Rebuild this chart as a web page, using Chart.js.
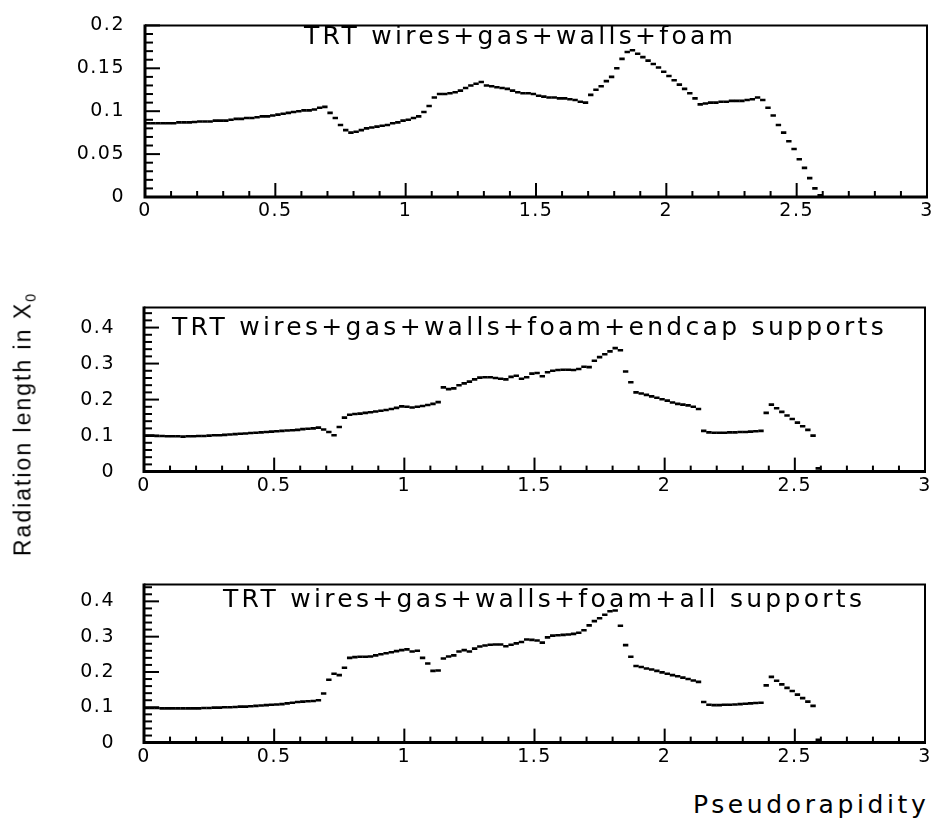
<!DOCTYPE html>
<html>
<head>
<meta charset="utf-8">
<script src="https://cdn.jsdelivr.net/npm/chart.js@4.4.0/dist/chart.umd.min.js"></script>
<style>
  html, body { margin: 0; padding: 0; background: #fff; }
  body { width: 933px; height: 825px; overflow: hidden; position: relative; }
  .panel { position: absolute; left: 0; }
  #ytitle {
    position: absolute; left: 23px; top: 424px;
    transform: translate(-50%, -50%) rotate(-90deg);
    font: 23px "Liberation Sans", sans-serif; letter-spacing: 2px;
    white-space: nowrap; color: #000;
  }
  #ytitle span { font-size: 62%; position: relative; top: 0.35em; }
  #xtitle {
    position: absolute; left: 693px; top: 792px;
    font: 25px "DejaVu Sans", sans-serif; line-height: 25px; letter-spacing: 3.6px;
    white-space: nowrap; color: #000;
  }
</style>
</head>
<body>
<div class="panel" id="wrap1"><canvas id="c1"></canvas></div>
<div class="panel" id="wrap2"><canvas id="c2"></canvas></div>
<div class="panel" id="wrap3"><canvas id="c3"></canvas></div>
<div id="ytitle">Radiation length in X<span>0</span></div>
<div id="xtitle">Pseudorapidity</div>

<script>
// Histogram binning in pseudorapidity: 130 bins of width 0.02 from 0 to 2.6
const etaMin = 0;
const binWidth = 0.02;
const nBins = 130;

// Radiation length (X0) per bin, one row = 0.2 in eta
const wiresGasWallsFoam = [
  0.086,0.086,0.086,0.086,0.086,0.086,0.087,0.087,0.087,0.0875,
  0.088,0.088,0.088,0.089,0.089,0.089,0.090,0.091,0.091,0.092,
  0.092,0.093,0.094,0.094,0.095,0.096,0.097,0.098,0.099,0.100,
  0.101,0.101,0.102,0.104,0.105,0.098,0.092,0.084,0.078,0.075,
  0.076,0.078,0.080,0.081,0.082,0.083,0.084,0.086,0.087,0.089,
  0.090,0.092,0.094,0.099,0.106,0.116,0.120,0.120,0.121,0.122,
  0.124,0.127,0.130,0.132,0.134,0.130,0.129,0.128,0.127,0.126,
  0.124,0.122,0.121,0.121,0.120,0.118,0.117,0.116,0.116,0.115,
  0.115,0.114,0.113,0.111,0.110,0.119,0.125,0.129,0.135,0.140,
  0.150,0.161,0.169,0.171,0.167,0.163,0.159,0.155,0.151,0.146,
  0.141,0.136,0.131,0.126,0.121,0.115,0.108,0.109,0.110,0.110,
  0.111,0.111,0.112,0.112,0.112,0.113,0.114,0.116,0.113,0.104,
  0.095,0.084,0.075,0.065,0.056,0.044,0.034,0.022,0.010,0.002
];

const withEndcapSupports = [
  0.100,0.100,0.099,0.099,0.098,0.098,0.098,0.097,0.098,0.098,
  0.099,0.099,0.100,0.101,0.101,0.102,0.103,0.104,0.105,0.106,
  0.107,0.108,0.109,0.110,0.111,0.112,0.113,0.114,0.115,0.116,
  0.118,0.119,0.120,0.122,0.117,0.110,0.101,0.124,0.150,0.158,
  0.160,0.161,0.163,0.165,0.167,0.169,0.171,0.174,0.177,0.181,
  0.180,0.178,0.180,0.182,0.185,0.188,0.193,0.234,0.229,0.231,
  0.240,0.245,0.250,0.256,0.261,0.262,0.262,0.260,0.258,0.256,
  0.263,0.266,0.258,0.262,0.272,0.274,0.265,0.276,0.280,0.282,
  0.283,0.283,0.282,0.285,0.291,0.290,0.308,0.318,0.326,0.334,
  0.343,0.337,0.278,0.248,0.220,0.217,0.213,0.209,0.205,0.201,
  0.197,0.192,0.188,0.186,0.184,0.180,0.174,0.113,0.109,0.108,
  0.108,0.108,0.109,0.109,0.110,0.110,0.111,0.112,0.113,0.163,
  0.186,0.176,0.166,0.156,0.146,0.136,0.126,0.116,0.100,0.009
];

const withAllSupports = [
  0.098,0.098,0.098,0.097,0.097,0.097,0.097,0.097,0.097,0.097,
  0.097,0.098,0.098,0.099,0.099,0.100,0.100,0.101,0.102,0.102,
  0.103,0.104,0.105,0.106,0.107,0.108,0.109,0.111,0.113,0.115,
  0.116,0.117,0.118,0.120,0.139,0.178,0.195,0.191,0.212,0.240,
  0.242,0.243,0.243,0.244,0.247,0.250,0.253,0.256,0.259,0.262,
  0.264,0.258,0.260,0.240,0.224,0.203,0.204,0.238,0.244,0.247,
  0.258,0.262,0.258,0.266,0.272,0.275,0.277,0.278,0.278,0.273,
  0.277,0.281,0.285,0.292,0.291,0.289,0.283,0.298,0.303,0.304,
  0.305,0.306,0.308,0.311,0.318,0.332,0.344,0.352,0.362,0.372,
  0.374,0.331,0.276,0.243,0.217,0.214,0.210,0.207,0.203,0.199,
  0.195,0.191,0.188,0.184,0.180,0.176,0.172,0.115,0.107,0.106,
  0.106,0.107,0.107,0.108,0.109,0.110,0.111,0.112,0.113,0.162,
  0.186,0.175,0.165,0.155,0.146,0.136,0.126,0.116,0.104,0.008
];

const panelLabels = [
  "TRT wires+gas+walls+foam",
  "TRT wires+gas+walls+foam+endcap supports",
  "TRT wires+gas+walls+foam+all supports"
];

// Axis ranges and tick steps
const xRange = [0, 3];
const xMajorStep = 0.5, xMinorStep = 0.1;
const yMaxima = [0.2, 0.456, 0.448];
const yMajorSteps = [0.05, 0.1, 0.1];
const yMinorSteps = [0.01, 0.02, 0.02];

// bin centres
const etaCentres = [];
for (let i = 0; i < nBins; i++) etaCentres.push(+(etaMin + (i + 0.5) * binWidth).toFixed(3));

// Page placement of each plot frame and caption
const frames = [
  { left: 145, right: 927, top: 14,  bottom: 197, labelX: 159, labelY: 19, yPad: 20 },
  { left: 144, right: 925, top: 287, bottom: 472, labelX: 28,  labelY: 28, yPad: 29 },
  { left: 144, right: 925, top: 564, bottom: 743, labelX: 79,  labelY: 23, yPad: 29 }
];

const CANVAS_W = 960, PAD_TOP = 20, X_AXIS_H = 40;
const TICK_SPACING = '1.5px';

// tick label text without trailing zeros: 0, 0.05, 0.1, 1.5, 3
const tickText = v => String(+(+v).toFixed(3));

// Inward ticks, frame, and the panel caption
const framePlugin = {
  id: 'frame',
  beforeLayout(chart) { chart.ctx.letterSpacing = TICK_SPACING; },
  beforeDraw(chart) { chart.ctx.letterSpacing = TICK_SPACING; },
  beforeDatasetsDraw(chart, args, opts) {
    const { ctx, chartArea: a, scales: { x, y } } = chart;
    ctx.save();
    ctx.strokeStyle = '#000';
    ctx.lineCap = 'butt';
    ctx.lineWidth = 2;
    const nx = Math.round((xRange[1] - xRange[0]) / xMinorStep);
    const xRatio = Math.round(xMajorStep / xMinorStep);
    for (let k = 0; k <= nx; k++) {
      const px = x.getPixelForValue(xRange[0] + k * xMinorStep);
      const len = (k % xRatio === 0) ? 14 : 6;
      ctx.beginPath(); ctx.moveTo(px, a.bottom); ctx.lineTo(px, a.bottom - len); ctx.stroke();
    }
    const ny = Math.floor(opts.yMax / opts.minor + 1e-6);
    const yRatio = Math.round(opts.major / opts.minor);
    for (let k = 0; k <= ny; k++) {
      const py = y.getPixelForValue(k * opts.minor);
      const len = (k % yRatio === 0) ? 15 : 8;
      ctx.beginPath(); ctx.moveTo(a.left, py); ctx.lineTo(a.left + len, py); ctx.stroke();
    }
    ctx.lineWidth = 2;
    ctx.beginPath(); ctx.moveTo(a.left, a.top); ctx.lineTo(a.right, a.top); ctx.lineTo(a.right, a.bottom); ctx.stroke();
    ctx.lineWidth = 3;
    ctx.beginPath(); ctx.moveTo(a.left, a.top - 1); ctx.lineTo(a.left, a.bottom); ctx.lineTo(a.right + 1, a.bottom); ctx.stroke();
    ctx.restore();
  },
  afterDraw(chart, args, opts) {
    const { ctx, chartArea: a } = chart;
    ctx.save();
    ctx.letterSpacing = '3.3px';
    ctx.font = '25px "DejaVu Sans"';
    ctx.fillStyle = '#000';
    ctx.textAlign = 'left';
    ctx.textBaseline = 'alphabetic';
    ctx.fillText(opts.label, a.left + opts.labelX, a.top + opts.labelY);
    ctx.restore();
  }
};

function makePanel(idx, values) {
  const f = frames[idx];
  const plotH = f.bottom - f.top;
  const wrap = document.getElementById('wrap' + (idx + 1));
  wrap.style.top = (f.top - PAD_TOP) + 'px';
  const canvas = document.getElementById('c' + (idx + 1));
  canvas.width = CANVAS_W;
  canvas.height = plotH + PAD_TOP + X_AXIS_H;
  canvas.style.width = CANVAS_W + 'px';
  canvas.style.height = canvas.height + 'px';

  const tickFont = { family: '"DejaVu Sans"', size: 19 };

  return new Chart(canvas, {
    type: 'scatter',
    data: {
      datasets: [{
        data: etaCentres.map((e, i) => ({ x: e, y: values[i] })),
        showLine: false,
        pointStyle: 'line',
        pointRadius: 2.7,
        pointHoverRadius: 2.7,
        borderWidth: 2.6,
        borderColor: '#000',
        backgroundColor: '#000'
      }]
    },
    options: {
      responsive: false,
      animation: false,
      devicePixelRatio: 1,
      events: [],
      layout: {
        autoPadding: false,
        padding: { top: PAD_TOP, right: CANVAS_W - f.right, left: 0, bottom: 0 }
      },
      plugins: {
        legend: { display: false },
        tooltip: { enabled: false },
        frame: {
          label: panelLabels[idx], labelX: f.labelX, labelY: f.labelY,
          yMax: yMaxima[idx], major: yMajorSteps[idx], minor: yMinorSteps[idx]
        }
      },
      scales: {
        x: {
          type: 'linear', min: xRange[0], max: xRange[1],
          grid: { display: false, drawTicks: false },
          border: { display: false },
          ticks: { stepSize: xMajorStep, includeBounds: false, color: '#000', font: tickFont, padding: 3, maxRotation: 0, callback: tickText },
          afterFit(scale) { scale.height = X_AXIS_H; }
        },
        y: {
          type: 'linear', min: 0, max: yMaxima[idx],
          grid: { display: false, drawTicks: false },
          border: { display: false },
          ticks: { stepSize: yMajorSteps[idx], includeBounds: false, color: '#000', font: tickFont, padding: f.yPad, callback: tickText },
          afterFit(scale) { scale.width = f.left; }
        }
      }
    },
    plugins: [framePlugin]
  });
}

makePanel(0, wiresGasWallsFoam);
makePanel(1, withEndcapSupports);
makePanel(2, withAllSupports);
</script>
</body>
</html>
